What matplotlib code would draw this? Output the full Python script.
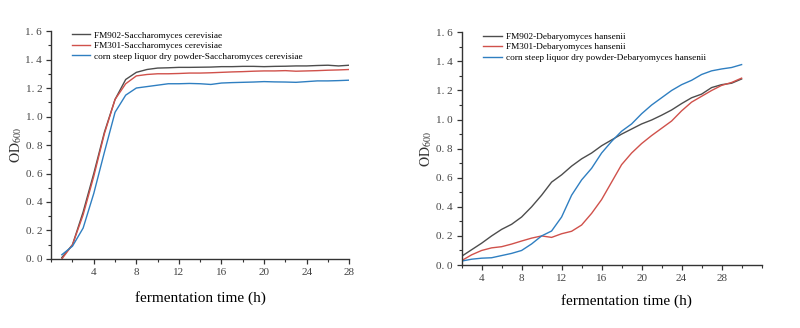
import matplotlib
matplotlib.use("Agg")
import matplotlib.pyplot as plt
from matplotlib.ticker import FixedLocator, MultipleLocator, FuncFormatter

plt.rcParams['font.family'] = ['Liberation Serif', 'DejaVu Serif']
plt.rcParams['mathtext.fontset'] = 'stix'

# left panel: Saccharomyces cerevisiae
hours_sc = [1, 2, 3, 4, 5, 6, 7, 8, 9, 10, 11, 12, 13, 14, 15, 16, 17, 18, 19, 20,
            21, 22, 23, 24, 25, 26, 27, 28]
fm902_sc = [0.01, 0.10, 0.33, 0.60, 0.89, 1.12, 1.26, 1.31, 1.33, 1.34, 1.342, 1.345,
            1.345, 1.346, 1.347, 1.35, 1.35, 1.352, 1.352, 1.35, 1.352, 1.353, 1.355,
            1.355, 1.358, 1.36, 1.355, 1.36]
fm301_sc = [0.0, 0.10, 0.31, 0.58, 0.88, 1.12, 1.23, 1.285, 1.295, 1.30, 1.30, 1.302,
            1.305, 1.305, 1.307, 1.31, 1.313, 1.315, 1.318, 1.32, 1.32, 1.322, 1.318,
            1.32, 1.322, 1.325, 1.327, 1.33]
csl_sc = [0.03, 0.09, 0.217, 0.46, 0.75, 1.03, 1.15, 1.20, 1.21, 1.22, 1.23, 1.23,
          1.232, 1.23, 1.225, 1.235, 1.238, 1.24, 1.242, 1.245, 1.243, 1.242, 1.24,
          1.245, 1.25, 1.25, 1.252, 1.255]

# right panel: Debaryomyces hansenii
hours_dh = [2, 3, 4, 5, 6, 7, 8, 9, 10, 11, 12, 13, 14, 15, 16, 17, 18, 19, 20, 21,
            22, 23, 24, 25, 26, 27, 28, 29, 30]
fm902_dh = [0.06, 0.105, 0.15, 0.20, 0.245, 0.28, 0.33, 0.40, 0.48, 0.57, 0.62, 0.68,
            0.73, 0.77, 0.82, 0.86, 0.90, 0.935, 0.97, 0.997, 1.03, 1.066, 1.11, 1.15,
            1.175, 1.22, 1.24, 1.25, 1.279]
fm301_dh = [0.03, 0.07, 0.10, 0.118, 0.126, 0.144, 0.165, 0.185, 0.20, 0.19, 0.215,
            0.232, 0.275, 0.355, 0.45, 0.57, 0.69, 0.77, 0.835, 0.89, 0.94, 0.99, 1.06,
            1.12, 1.16, 1.20, 1.235, 1.255, 1.285]
csl_dh = [0.027, 0.04, 0.047, 0.05, 0.065, 0.08, 0.10, 0.145, 0.20, 0.234, 0.33, 0.48,
          0.585, 0.665, 0.77, 0.85, 0.92, 0.97, 1.04, 1.10, 1.15, 1.20, 1.24, 1.27,
          1.31, 1.335, 1.348, 1.358, 1.378]

labels_sc = ['FM902-Saccharomyces cerevisiae', 'FM301-Saccharomyces cerevisiae',
             'corn steep liquor dry powder-Saccharomyces cerevisiae']
labels_dh = ['FM902-Debaryomyces hansenii', 'FM301-Debaryomyces hansenii',
             'corn steep liquor dry powder-Debaryomyces hansenii']

colors = ['#4d4d4d', '#d0514b', '#2f7fc1']
tick_color = '#444444'

fig = plt.figure(figsize=(8, 3.28), dpi=100)
ax_l = fig.add_axes([0.064, 0.2104, 0.3725, 0.695])
ax_r = fig.add_axes([0.577, 0.192, 0.375, 0.7095])


def fmt_y(v, pos):
    return f"{v:.1f}".replace('.', '. ')


def style_axes(ax, xlim, majors, minors):
    ax.set_xlim(*xlim)
    ax.set_ylim(0, 1.6)
    ax.xaxis.set_major_locator(FixedLocator(majors))
    ax.xaxis.set_minor_locator(FixedLocator(minors))
    ax.yaxis.set_major_locator(MultipleLocator(0.2))
    ax.yaxis.set_minor_locator(MultipleLocator(0.1))
    ax.yaxis.set_major_formatter(FuncFormatter(fmt_y))
    for side in ['top', 'right']:
        ax.spines[side].set_visible(False)
    for side in ['left', 'bottom']:
        ax.spines[side].set_color('#333333')
        ax.spines[side].set_linewidth(1.0)
    ax.tick_params(which='major', length=3.5, width=0.9, color='#333333',
                   labelsize=8, labelcolor=tick_color, pad=3)
    ax.tick_params(which='minor', length=2, width=0.8, color='#333333')
    ax.set_ylabel(r'$\mathrm{OD}_{600}$', fontsize=10, color='#333333')
    ax.set_xlabel('fermentation time (h)', fontsize=11, color='black')


for y, c, lab in zip([fm902_sc, fm301_sc, csl_sc], colors, labels_sc):
    ax_l.plot(hours_sc, y, color=c, lw=1.0, label=lab)
for y, c, lab in zip([fm902_dh, fm301_dh, csl_dh], colors, labels_dh):
    ax_r.plot(hours_dh, y, color=c, lw=1.0, label=lab)

style_axes(ax_l, (0, 28), [4, 8, 12, 16, 20, 24, 28], list(range(0, 29, 2)))
style_axes(ax_r, (2, 32), [4, 8, 12, 16, 20, 24, 28], list(range(2, 33, 2)))

ax_l.xaxis.set_label_coords(0.5, -0.14)
ax_r.xaxis.set_label_coords(0.551, -0.125)
ax_l.yaxis.set_label_coords(-0.09, 0.5)
ax_r.yaxis.set_label_coords(-0.092, 0.5)

legend_kw = dict(loc='upper left', frameon=False, fontsize=6.7, handlelength=1.95,
                 handletextpad=0.45, labelspacing=0.22, borderpad=0,
                 borderaxespad=0)
ax_l.legend(bbox_to_anchor=(0.07, 1.0), **legend_kw)
ax_r.legend(bbox_to_anchor=(0.073, 1.0), **legend_kw)

fig.savefig('out.png', dpi=100)
